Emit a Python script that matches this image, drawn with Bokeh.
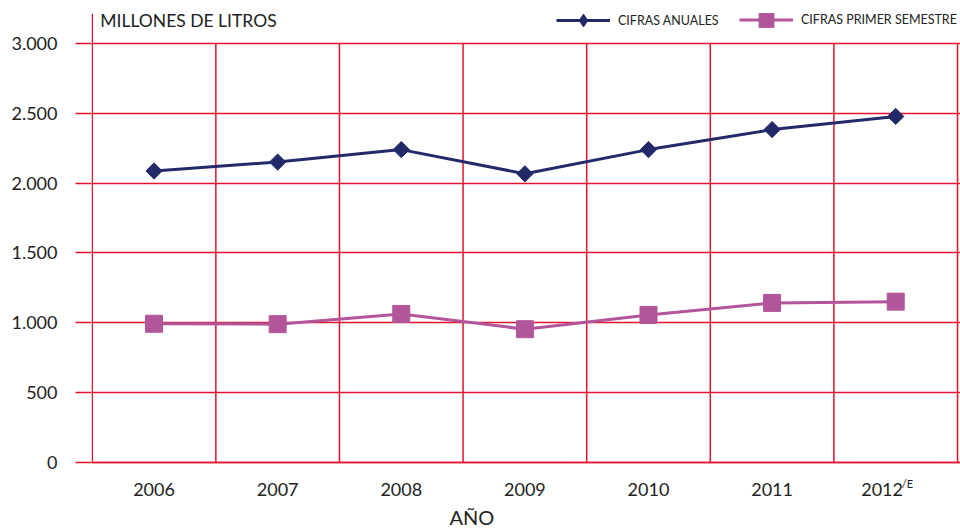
import math
from bokeh.plotting import figure
from bokeh.models import Range1d, FixedTicker, Legend, LegendItem, Label
from bokeh.embed import file_html
from bokeh.resources import INLINE

years = ["2006", "2007", "2008", "2009", "2010", "2011", "2012"]
last_suffix = "/E"
annual = [2086, 2150, 2239, 2066, 2239, 2382, 2476]
semester = [994, 991, 1064, 955, 1057, 1143, 1152]
y_ticks = [0, 500, 1000, 1500, 2000, 2500, 3000]
y_title = "MILLONES DE LITROS"
x_title = "AÑO"
annual_label = "CIFRAS ANUALES"
semester_label = "CIFRAS PRIMER SEMESTRE"

RED = "#e3142f"
NAVY = "#232a69"
MAG = "#b2559a"
TXT = "#222222"
FONT = "Lato"

n = len(years)
xc = [i + 0.5 for i in range(n)]
Y_END = 3212

p = figure(width=960, height=529, output_backend="svg", toolbar_location=None,
           x_range=Range1d(-0.006, n + 0.024), y_range=Range1d(-477, Y_END),
           min_border_left=91, min_border_right=0, min_border_top=13, min_border_bottom=0)
p.outline_line_color = None
p.background_fill_color = "white"
p.xgrid.visible = False
p.ygrid.ticker = FixedTicker(ticks=y_ticks)
p.ygrid.grid_line_color = RED
p.ygrid.grid_line_width = 1.5

# category boundaries: left edge to the top, the others up to the top tick
p.segment(x0=[0], y0=[0], x1=[0], y1=[Y_END], line_color=RED, line_width=1.5)
bounds = list(range(1, n + 1))
p.segment(x0=bounds, y0=[0] * n, x1=bounds, y1=[max(y_ticks)] * n,
          line_color=RED, line_width=1.5)

# y axis
ya = p.yaxis[0]
ya.ticker = FixedTicker(ticks=y_ticks)
ya.major_label_overrides = {t: f"{t:,}".replace(",", ".") for t in y_ticks}
ya.axis_line_color = None
ya.major_tick_line_color = RED
ya.major_tick_line_width = 1.5
ya.major_tick_out = 16
ya.major_tick_in = 0
ya.minor_tick_line_color = None
ya.major_label_text_font = FONT
ya.major_label_text_font_size = "18px"
ya.major_label_text_color = TXT
ya.major_label_standoff = 18

# x axis at y = 0 (last label sits a little left, leaving room for its superscript)
x_ticks = xc[:-1] + [xc[-1] - 0.11]
xa = p.xaxis[0]
xa.fixed_location = 0
xa.ticker = FixedTicker(ticks=x_ticks)
xa.major_label_overrides = {x_ticks[i]: years[i] for i in range(n)}
xa.major_tick_line_color = None
xa.minor_tick_line_color = None
xa.axis_line_color = RED
xa.axis_line_width = 1.5
xa.major_label_text_font = FONT
xa.major_label_text_font_size = "18px"
xa.major_label_text_color = TXT
xa.major_label_standoff = 14

# series
r1 = p.line(xc, annual, line_color=NAVY, line_width=3)
d1 = p.scatter(xc, annual, marker="diamond", size=12, fill_color=NAVY, line_color=NAVY)
s1 = p.scatter(xc, annual, marker="square", angle=math.pi / 4, size=11.5,
               fill_color=NAVY, line_color=NAVY)
r2 = p.line(xc, semester, line_color=MAG, line_width=3)
s2 = p.scatter(xc, semester, marker="square", size=17,
               fill_color=MAG, line_color=MAG)


def mk_legend(label, rends, loc, gh):
    return Legend(items=[LegendItem(label=label, renderers=rends)], location=loc,
                  glyph_width=54, glyph_height=gh, label_standoff=8, padding=0,
                  margin=0, border_line_color=None, background_fill_alpha=0,
                  label_text_font=FONT, label_text_font_size="12.5px",
                  label_text_color=TXT)


p.add_layout(mk_legend(annual_label, [r1, d1], (465, 493), 32))
p.add_layout(mk_legend(semester_label, [r2, s2], (648, 491), 37))

# superscript of last year label
p.add_layout(Label(x=xc[-1], y=0, x_offset=6, y_offset=-21, text=last_suffix,
                   text_align="left", text_baseline="alphabetic",
                   text_font=FONT, text_font_size="11px", text_color=TXT))
# x title
p.add_layout(Label(x=n / 2, y=0, x_offset=-53, y_offset=-54, text=x_title,
                   text_align="center", text_baseline="alphabetic",
                   text_font=FONT, text_font_size="20px", text_color=TXT))
# y title inside plot
p.add_layout(Label(x=0, y=max(y_ticks), x_offset=8, y_offset=23, text=y_title,
                   text_align="left", text_baseline="alphabetic",
                   text_font=FONT, text_font_size="17.5px", text_color=TXT))

open("out.html", "w").write(file_html(p, INLINE))
